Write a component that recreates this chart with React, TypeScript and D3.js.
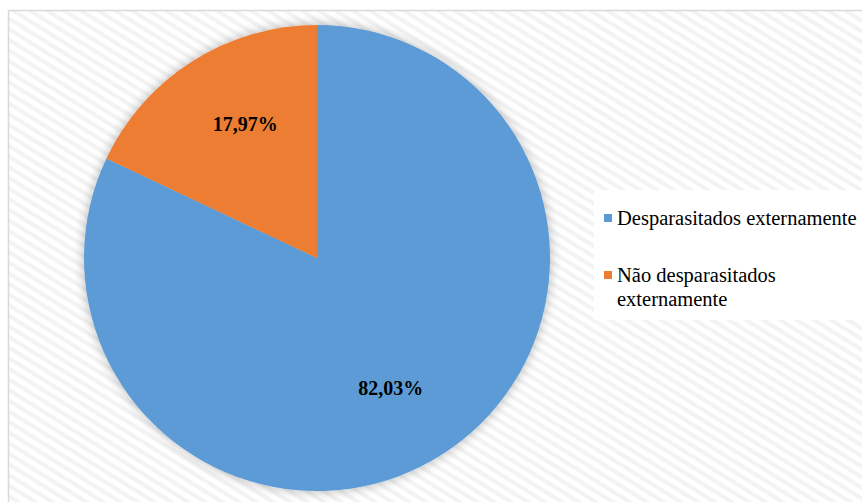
import React from "react";
import * as d3 from "d3";

const categories = ["Desparasitados externamente", "Não desparasitados externamente"];
const values = [82.03, 17.97];
const labels = ["82,03%", "17,97%"];
const colors = ["#5B9BD5", "#ED7D31"];
const legendLines = [["Desparasitados externamente"], ["Não desparasitados", "externamente"]];

export default function App() {
  const W = 862, H = 502;
  const cx = 317, cy = 258, r = 233;
  const pie = d3.pie<number>().sort(null).startAngle(0).endAngle(2 * Math.PI)(values);
  const arc = d3.arc<d3.PieArcDatum<number>>().innerRadius(0).outerRadius(r);
  const labelArc = d3.arc<d3.PieArcDatum<number>>().innerRadius(r * 0.6).outerRadius(r * 0.6);
  const offsets = [[-1, 14], [3, -14]];
  return (
    <svg width={W} height={H} style={{ position: "absolute", left: 0, top: 0 }}>
      <defs>
        <pattern id="hatch" width="9" height="9" patternUnits="userSpaceOnUse" patternTransform="rotate(32)">
          <rect width="9" height="9" fill="#ffffff" />
          <rect width="9" height="4" fill="#f3f3f3" />
        </pattern>
        <filter id="shadow" x="-20%" y="-20%" width="140%" height="140%">
          <feGaussianBlur in="SourceAlpha" stdDeviation="6" />
          <feOffset dx="0" dy="0" result="b" />
          <feComponentTransfer><feFuncA type="linear" slope="0.3" /></feComponentTransfer>
          <feMerge><feMergeNode /><feMergeNode in="SourceGraphic" /></feMerge>
        </filter>
      </defs>
      <rect x={0} y={0} width={W} height={H} fill="#ffffff" />
      <rect x={8.5} y={10.5} width={W} height={H} fill="url(#hatch)" stroke="#d9d9d9" strokeWidth={1.5} />
      <g transform={`translate(${cx},${cy})`} filter="url(#shadow)">
        {pie.map((d, i) => (
          <path key={i} d={arc(d) || ""} fill={colors[i]} />
        ))}
      </g>
      <g transform={`translate(${cx},${cy})`}>
        {pie.map((d, i) => {
          const [x, y] = labelArc.centroid(d);
          return (
            <text key={i} x={x + offsets[i][0]} y={y + offsets[i][1]} textAnchor="middle" dominantBaseline="middle"
              fontFamily="Liberation Serif, Times New Roman, serif" fontWeight="bold" fontSize={20} fill="#000">
              {labels[i]}
            </text>
          );
        })}
      </g>
      <rect x={594} y={190} width={W - 594} height={130} fill="#ffffff" />
      {categories.map((c, i) => (
        <g key={c}>
          <rect x={604} y={i === 0 ? 214 : 271} width={8} height={8} fill={colors[i]} />
          {legendLines[i].map((ln, j) => (
            <text key={j} x={617} y={(i === 0 ? 225 : 282) + j * 24} fontFamily="Liberation Serif, Times New Roman, serif" fontSize={20.5} fill="#000">
              {ln}
            </text>
          ))}
        </g>
      ))}
    </svg>
  );
}
